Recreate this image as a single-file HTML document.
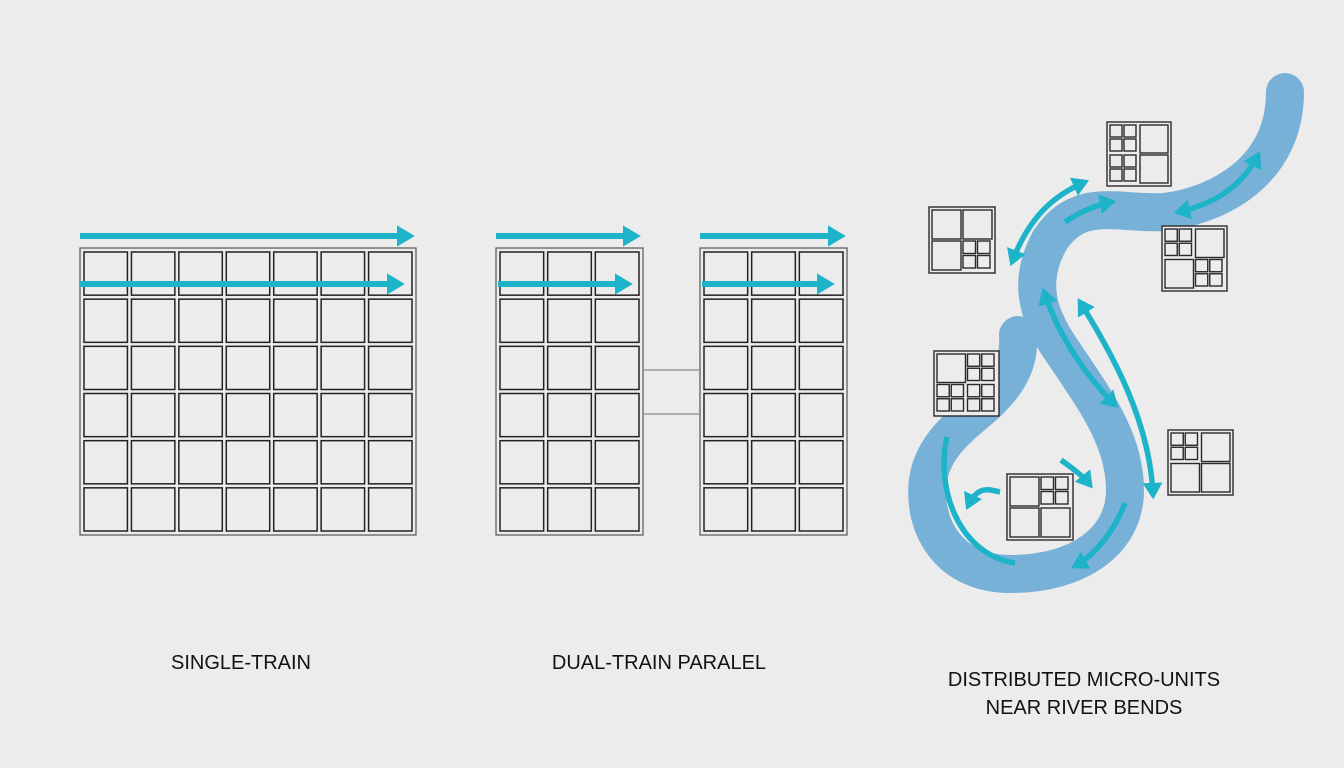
<!DOCTYPE html>
<html><head><meta charset="utf-8">
<style>
html,body{margin:0;padding:0;background:#ececec;}
svg{display:block}
text{font-family:"Liberation Sans",sans-serif;font-size:20px;fill:#111;text-anchor:middle}
</style></head>
<body>
<svg id="s" width="1344" height="768" viewBox="0 0 1344 768" xmlns="http://www.w3.org/2000/svg">
<defs>
<marker id="h" markerWidth="4" markerHeight="4" refX="2.2" refY="2" orient="auto" markerUnits="strokeWidth"><path d="M0,0.2 L3,2 L0,3.8 Z" fill="#1db3c9"/></marker>
<marker id="t" markerWidth="4" markerHeight="4" refX="0.8" refY="2" orient="auto" markerUnits="strokeWidth"><path d="M3,0.2 L0,2 L3,3.8 Z" fill="#1db3c9"/></marker>
</defs>
<g id="grids" fill="none" stroke="#222" stroke-width="1.5"></g>
<g stroke="#8a8a8a" stroke-width="1.2"><line x1="643" y1="370" x2="700" y2="370"/><line x1="643" y1="414" x2="700" y2="414"/></g>
<g stroke="#1db3c9" stroke-width="6" fill="none">
<line x1="80" y1="236" x2="410" y2="236" marker-end="url(#h)"/>
<line x1="80" y1="284" x2="400" y2="284" marker-end="url(#h)"/>
<line x1="496" y1="236" x2="636" y2="236" marker-end="url(#h)"/>
<line x1="498" y1="284" x2="628" y2="284" marker-end="url(#h)"/>
<line x1="700" y1="236" x2="841" y2="236" marker-end="url(#h)"/>
<line x1="702" y1="284" x2="830" y2="284" marker-end="url(#h)"/>
</g>
<path d="M1285,92 C1285,170 1220,205 1165,212 C1120,215 1080,195 1050,240 C1025,285 1040,320 1065,355 C1095,400 1125,440 1125,490 C1125,540 1080,574 1010,574 C948,574 922,525 928,480 C934,440 970,420 990,400 C1010,380 1020,360 1018,335" fill="none" stroke="#78b1d7" stroke-width="38" stroke-linecap="round"/>
<g stroke="#1db3c9" stroke-width="5.5" fill="none">
<path d="M1012,262 C1030,215 1055,195 1085,182" marker-start="url(#t)" marker-end="url(#h)"/>
<path d="M1065,222 C1080,212 1095,205 1112,202" marker-end="url(#h)"/>
<path d="M1178,212 C1210,205 1240,190 1258,155" marker-start="url(#t)" marker-end="url(#h)"/>
<path d="M1044,292 C1060,340 1090,380 1115,405" marker-start="url(#t)" marker-end="url(#h)"/>
<path d="M1080,302 C1110,350 1150,420 1153,495" marker-start="url(#t)" marker-end="url(#h)"/>
<path d="M1061,460 C1072,468 1082,475 1090,485" marker-end="url(#h)"/>
<path d="M1000,492 C990,490 978,484 968,506" marker-end="url(#h)"/>
<path d="M947,437 C935,490 960,555 1015,563"/>
<path d="M1125,503 C1115,530 1095,555 1075,566" marker-end="url(#h)"/>
</g>
<g id="units" fill="#ececec" stroke="#2a2a2a" stroke-width="1.4"></g>
<text x="241" y="669">SINGLE-TRAIN</text>
<text x="659" y="669">DUAL-TRAIN PARALEL</text>
<text x="1084" y="686">DISTRIBUTED MICRO-UNITS</text>
<text x="1084" y="714">NEAR RIVER BENDS</text>
</svg>
<script>
var NS="http://www.w3.org/2000/svg";
function r(g,x,y,w,h,extra){var e=document.createElementNS(NS,"rect");e.setAttribute("x",x);e.setAttribute("y",y);e.setAttribute("width",w);e.setAttribute("height",h);if(extra)for(var k in extra)e.setAttribute(k,extra[k]);g.appendChild(e);}
var G=document.getElementById("grids");
function grid(x0,x1,cols){r(G,x0,248,x1-x0,287,{stroke:"#555","stroke-width":1.2});var pw=(x1-x0-4)/cols,ph=283/6;for(var i=0;i<cols;i++)for(var j=0;j<6;j++)r(G,x0+4+i*pw,252+j*ph,pw-4,ph-4);}
grid(80,416,7);grid(496,643,3);grid(700,847,3);
var U=document.getElementById("units");
function unit(x,y,s,q){r(U,x,y,s,s);var h=(s-4)/2;for(var i=0;i<4;i++){var qx=x+2+(i%2)*h,qy=y+2+Math.floor(i/2)*h;if(q[i]){var c=(h-2)/2;for(var k=0;k<4;k++)r(U,qx+1+(k%2)*c,qy+1+Math.floor(k/2)*c,c-2,c-2);}else r(U,qx+1,qy+1,h-2,h-2);}}
unit(1107,122,64,[1,0,1,0]);
unit(929,207,66,[0,0,0,1]);
unit(1162,226,65,[1,0,0,1]);
unit(934,351,65,[0,1,1,1]);
unit(1168,430,65,[1,0,0,0]);
unit(1007,474,66,[0,1,0,0]);
</script>
</body></html>
